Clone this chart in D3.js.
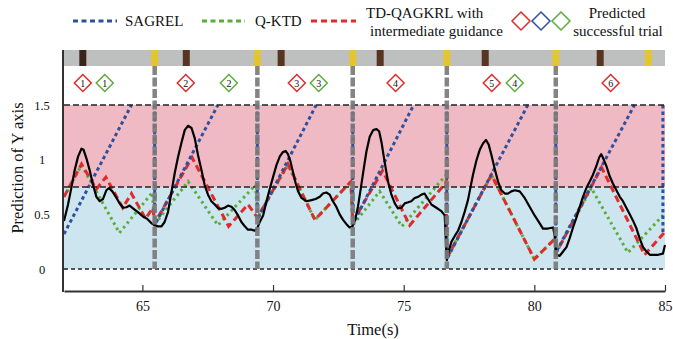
<!DOCTYPE html>
<html>
<head>
<meta charset="utf-8">
<script src="https://cdn.jsdelivr.net/npm/d3@7"></script>
<style>
  body { margin: 0; background: #fff; }
  svg text { font-family: "Liberation Serif", "DejaVu Serif", "Times New Roman", Times, serif !important; fill: #111; }
</style>
</head>
<body>
<svg id="chart" width="673" height="339"></svg>
<script>
// measured Y-axis movement (black curve)
const actual = [
  [62.0,0.44],[62.15,0.585],[62.28,0.74],[62.41,0.905],[62.54,1.03],[62.67,1.10],[62.75,1.09],[62.86,1.01],
  [62.98,0.905],[63.11,0.77],[63.24,0.66],[63.37,0.62],[63.49,0.64],[63.62,0.72],[63.72,0.74],[63.85,0.71],
  [64.01,0.65],[64.13,0.60],[64.26,0.56],[64.39,0.565],[64.51,0.58],[64.64,0.555],[64.83,0.52],[65.02,0.48],
  [65.18,0.46],[65.34,0.42],[65.47,0.40],[65.60,0.39],[65.73,0.39],[65.85,0.43],[65.98,0.52],[66.11,0.70],
  [66.24,0.88],[66.36,1.02],[66.49,1.15],[66.62,1.27],[66.75,1.31],[66.88,1.29],[67.00,1.20],[67.13,1.04],
  [67.26,0.905],[67.38,0.77],[67.51,0.68],[67.64,0.62],[67.77,0.59],[67.90,0.555],[68.02,0.55],[68.15,0.56],
  [68.28,0.58],[68.41,0.57],[68.53,0.54],[68.66,0.49],[68.79,0.43],[68.92,0.39],[69.04,0.36],[69.17,0.36],
  [69.30,0.35],[69.39,0.37],[69.49,0.43],[69.62,0.49],[69.75,0.62],[69.87,0.73],[70.00,0.84],[70.13,0.95],
  [70.26,1.03],[70.38,1.07],[70.48,1.08],[70.57,1.05],[70.66,0.99],[70.76,0.89],[70.87,0.78],[70.96,0.71],
  [71.09,0.65],[71.28,0.62],[71.47,0.63],[71.63,0.64],[71.79,0.66],[71.91,0.69],[72.04,0.70],[72.17,0.68],
  [72.29,0.62],[72.42,0.57],[72.55,0.50],[72.68,0.45],[72.81,0.41],[72.93,0.38],[73.04,0.39],[73.13,0.44],
  [73.25,0.57],[73.36,0.74],[73.46,0.90],[73.57,1.07],[73.70,1.21],[73.83,1.27],[73.96,1.28],[74.06,1.26],
  [74.15,1.16],[74.27,0.98],[74.40,0.80],[74.53,0.68],[74.66,0.60],[74.78,0.555],[74.91,0.56],[75.04,0.60],
  [75.17,0.61],[75.29,0.62],[75.42,0.65],[75.55,0.66],[75.68,0.68],[75.80,0.69],[75.93,0.64],[76.06,0.59],
  [76.25,0.56],[76.44,0.53],[76.57,0.49],[76.61,0.28],[76.65,0.08],[76.73,0.17],[76.83,0.25],[76.95,0.30],
  [77.08,0.35],[77.21,0.43],[77.33,0.52],[77.46,0.63],[77.55,0.74],[77.65,0.86],[77.78,0.99],[77.91,1.09],
  [78.04,1.15],[78.15,1.18],[78.25,1.14],[78.36,1.04],[78.48,0.92],[78.61,0.80],[78.74,0.72],[78.87,0.69],
  [78.99,0.69],[79.12,0.71],[79.25,0.72],[79.44,0.71],[79.63,0.65],[79.82,0.57],[80.01,0.49],[80.20,0.42],
  [80.33,0.37],[80.52,0.37],[80.72,0.38],[80.78,0.30],[80.84,0.13],[80.97,0.12],[81.10,0.16],[81.23,0.20],
  [81.35,0.28],[81.48,0.38],[81.61,0.47],[81.74,0.57],[81.86,0.66],[81.99,0.74],[82.12,0.80],[82.24,0.86],
  [82.37,0.94],[82.48,1.02],[82.56,1.05],[82.64,1.01],[82.76,0.94],[82.88,0.85],[83.01,0.78],[83.14,0.72],
  [83.27,0.66],[83.39,0.62],[83.52,0.56],[83.65,0.50],[83.78,0.44],[83.91,0.37],[84.03,0.28],[84.16,0.20],
  [84.29,0.16],[84.42,0.13],[84.54,0.13],[84.74,0.13],[84.92,0.14],[85.0,0.22]
];

// SAGREL prediction (null = gap in the line)
const sagrel = [
  [62,0.32],[64.58,1.5], null,
  [65.47,1.5],[65.47,0.40],[67.89,1.5], null,
  [69.40,1.5],[69.40,0.45],[71.65,1.5], null,
  [73.05,1.5],[73.05,0.41],[75.38,1.5], null,
  [76.65,1.5],[76.65,0.09],[79.75,1.5], null,
  [80.82,1.5],[80.82,0.15],[83.83,1.5], null,
  [84.92,1.5],[84.92,0.31]
];

// Q-KTD prediction
const qktd = [
  [62.0,0.66],[62.67,0.95],[64.12,0.33],[65.38,0.70],[65.47,0.41],[66.75,0.80],[67.89,0.40],[69.33,0.77],
  [69.40,0.47],[70.57,0.95],[71.6,0.45],[72.98,0.80],[73.05,0.40],[74.08,0.71],[74.93,0.39],[76.62,0.86],
  [76.65,0.10],[78.36,0.86],[80.0,0.09],[80.8,0.28],[80.82,0.14],[82.18,0.74],[83.58,0.15],[85,0.51]
];

// TD-QAGKRL with intermediate guidance prediction
const tdqagkrl = [
  [62.0,0.66],[62.67,0.96],[63.24,0.73],[63.6,0.84],[64.25,0.56],[64.58,0.69],[65.12,0.46],[65.40,0.56],
  [65.47,0.42],[66.9,1.02],[68.3,0.39],[69.04,0.59],[69.40,0.47],[70.57,0.96],[71.6,0.45],[72.98,0.80],
  [73.05,0.43],[74.19,0.90],[75.23,0.40],[76.62,0.79],[76.65,0.10],[78.36,0.86],[80.0,0.09],[80.8,0.28],
  [80.82,0.14],[82.57,0.93],[84.22,0.13],[85,0.34]
];

const trialEnds = [65.47, 69.40, 73.05, 76.65, 80.82];
const cueMarks = [62.72, 66.68, 70.31, 74.10, 78.12, 82.52];
const rewardMarks = [65.47, 69.40, 73.05, 76.65, 80.82, 84.36];
const redTrials = [[62.72,1],[66.66,2],[70.91,3],[74.69,4],[78.37,5],[82.92,6]];
const greenTrials = [[63.56,1],[68.31,2],[71.75,3],[79.25,4]];
const xTicks = [65, 70, 75, 80, 85];
const yTicks = [0, 0.5, 1, 1.5];
const zoneEdges = [0, 0.75, 1.5];

const colors = { blue: "#2f4f9f", green: "#5bac3b", red: "#e02b2b", pink: "#f0bac4", sky: "#cce5ee" };
const serif = "Liberation Serif, DejaVu Serif, serif";

const svg = d3.select("#chart");
const x = d3.scaleLinear().domain([62, 85]).range([64, 665]);
const y = d3.scaleLinear().domain([0, 1.5]).range([269, 105]);

const bandTop = 50, bandBottom = 66, axisY = 291;

// coloured zones
svg.append("rect").attr("x", x(62)).attr("width", x(85) - x(62))
  .attr("y", y(zoneEdges[2])).attr("height", y(zoneEdges[1]) - y(zoneEdges[2])).attr("fill", colors.pink);
svg.append("rect").attr("x", x(62)).attr("width", x(85) - x(62))
  .attr("y", y(zoneEdges[1])).attr("height", y(zoneEdges[0]) - y(zoneEdges[1])).attr("fill", colors.sky);

// event band
svg.append("rect").attr("x", x(62) - 1).attr("y", bandTop).attr("width", x(85) - x(62) + 1)
  .attr("height", bandBottom - bandTop).attr("fill", "#bec0c0");
svg.selectAll("rect.cue").data(cueMarks).enter().append("rect")
  .attr("class", "cue").attr("x", d => x(d) - 3.5).attr("y", bandTop).attr("width", 7)
  .attr("height", bandBottom - bandTop).attr("fill", (d, i) => i === 0 ? "#3a2619" : "#583520");
svg.selectAll("rect.reward").data(rewardMarks).enter().append("rect")
  .attr("class", "reward").attr("x", d => x(d) - 3.5).attr("y", bandTop).attr("width", 7)
  .attr("height", bandBottom - bandTop).attr("fill", "#e2c62c");

// series
const line = d3.line().defined(d => d).x(d => x(d[0])).y(d => y(d[1]));

svg.append("path").datum(qktd).attr("d", line).attr("fill", "none")
  .attr("stroke", colors.green).attr("stroke-width", 3).attr("stroke-dasharray", "2.5,3.5");
svg.append("path").datum(tdqagkrl).attr("d", line).attr("fill", "none")
  .attr("stroke", colors.red).attr("stroke-width", 3).attr("stroke-dasharray", "7,4");
svg.append("path").datum(sagrel).attr("d", line).attr("fill", "none")
  .attr("stroke", colors.blue).attr("stroke-width", 3).attr("stroke-dasharray", "3.5,3");

// zone boundaries
svg.selectAll("line.zone").data(zoneEdges).enter().append("line")
  .attr("class", "zone").attr("x1", x(62)).attr("x2", x(85))
  .attr("y1", d => y(d)).attr("y2", d => y(d))
  .attr("stroke", "#222").attr("stroke-width", 1.3)
  .attr("stroke-dasharray", d => d === 0 ? "4,3" : "6,3");

svg.append("path").datum(actual).attr("d", line).attr("fill", "none")
  .attr("stroke", "#000").attr("stroke-width", 2.2).attr("stroke-linejoin", "round");

// trial end markers
svg.selectAll("line.trialEnd").data(trialEnds).enter().append("line")
  .attr("class", "trialEnd").attr("x1", d => x(d)).attr("x2", d => x(d))
  .attr("y1", bandBottom).attr("y2", y(0))
  .attr("stroke", "#7a7a7a").attr("stroke-width", 4.5).attr("stroke-dasharray", "9,2.5")
  .attr("opacity", 0.92);

// successful-trial diamonds
function diamond(g, cx, cy, r, color, label) {
  g.append("path")
    .attr("d", `M${cx},${cy - r}L${cx + r},${cy}L${cx},${cy + r}L${cx - r},${cy}Z`)
    .attr("fill", "#fff").attr("stroke", color).attr("stroke-width", 1.5);
  if (label != null) {
    g.append("text").attr("x", cx).attr("y", cy + 3.5).attr("text-anchor", "middle")
      .attr("font-size", 10).text(label);
  }
}
const marks = svg.append("g");
redTrials.forEach(d => diamond(marks, x(d[0]), 83, 8.5, colors.red, d[1]));
greenTrials.forEach(d => diamond(marks, x(d[0]), 83, 8.5, colors.green, d[1]));

// axes
const xAxis = svg.append("g").attr("transform", `translate(0,${axisY})`)
  .call(d3.axisBottom(x).tickValues(xTicks).tickSize(-6).tickSizeOuter(0).tickPadding(10));
xAxis.attr("font-family", serif);
xAxis.select(".domain").attr("stroke", "#333").attr("stroke-width", 2);
xAxis.selectAll(".tick line").attr("stroke", "#333").attr("stroke-width", 1.2);
xAxis.selectAll("text").attr("font-size", 14).attr("fill", "#111");

svg.append("line").attr("x1", x(62) - 1).attr("x2", x(62) - 1).attr("y1", bandTop).attr("y2", axisY + 1)
  .attr("stroke", "#333").attr("stroke-width", 2);

const yAxis = svg.append("g").attr("transform", "translate(50,0)")
  .call(d3.axisLeft(y).tickValues(yTicks).tickSize(0).tickPadding(0).tickFormat(d3.format("~g")));
yAxis.attr("font-family", serif);
yAxis.select(".domain").remove();
yAxis.selectAll("text").attr("x", -8).attr("text-anchor", "middle").attr("font-size", 12.5).attr("fill", "#111");

svg.append("text").attr("x", 373).attr("y", 335).attr("text-anchor", "middle")
  .attr("font-size", 16.5).text("Time(s)");
svg.append("text").attr("transform", "translate(23,168) rotate(-90)").attr("text-anchor", "middle")
  .attr("font-size", 16.5).text("Prediction of Y axis");

// legend
const legend = svg.append("g");
const legendItems = [
  { color: colors.blue, dash: "5,3.5", x1: 73, x2: 117 },
  { color: colors.green, dash: "5,3.5", x1: 202, x2: 245 },
  { color: colors.red, dash: "6,4", x1: 311, x2: 356 }
];
legendItems.forEach(d => legend.append("line").attr("x1", d.x1).attr("x2", d.x2).attr("y1", 21).attr("y2", 21)
  .attr("stroke", d.color).attr("stroke-width", 3).attr("stroke-dasharray", d.dash));
legend.append("text").attr("x", 125).attr("y", 26).attr("font-size", 15).text("SAGREL");
legend.append("text").attr("x", 255).attr("y", 26).attr("font-size", 15).text("Q-KTD");
legend.append("text").attr("x", 366).attr("y", 18).attr("font-size", 15).text("TD-QAGKRL with");
legend.append("text").attr("x", 370).attr("y", 36).attr("font-size", 15).text("intermediate guidance");
[colors.red, colors.blue, colors.green].forEach((c, i) => diamond(legend, 521 + i * 20, 21, 9, c, null));
legend.append("text").attr("x", 617).attr("y", 18).attr("text-anchor", "middle").attr("font-size", 15).text("Predicted");
legend.append("text").attr("x", 618).attr("y", 36).attr("text-anchor", "middle").attr("font-size", 15).text("successful trial");
</script>
</body>
</html>
